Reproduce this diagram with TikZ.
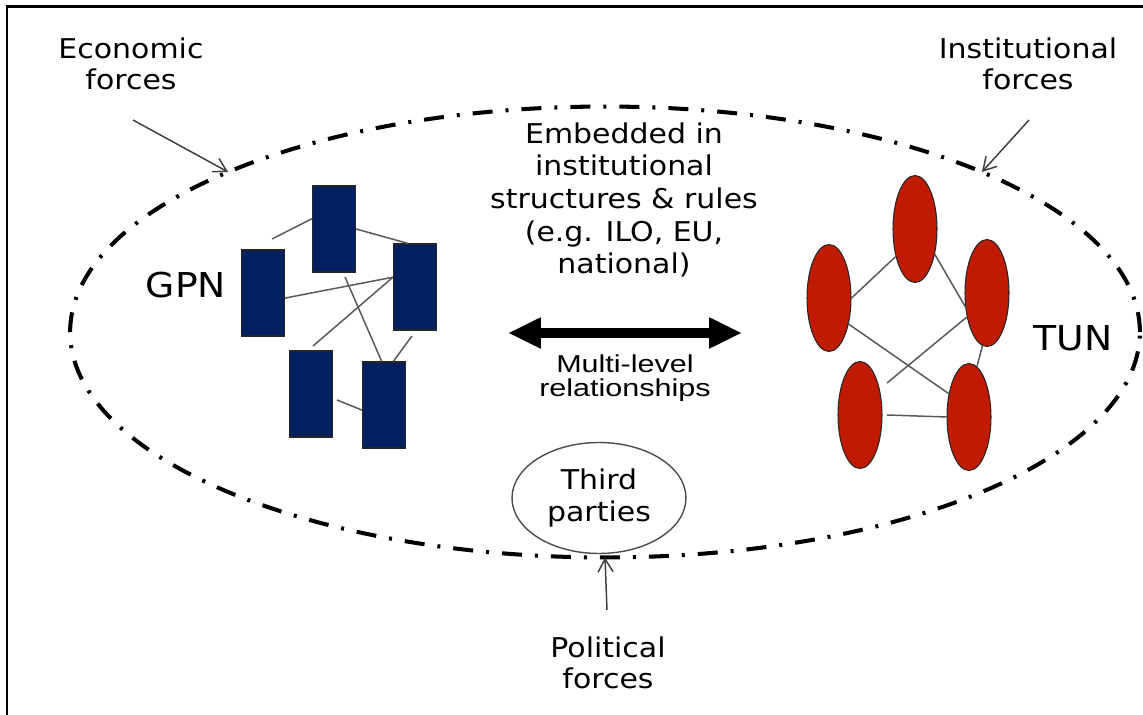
\documentclass[tikz,border=0pt]{standalone}
\usepackage{fontspec}
\setmainfont{DejaVu Sans}[FakeStretch=1.1]
\newfontfamily\relfont{Liberation Sans}[FakeStretch=1.25]
\usepackage{tikz}
\usetikzlibrary{shapes.geometric,arrows.meta}
\definecolor{gpnblue}{RGB}{0,32,96}
\definecolor{tunred}{RGB}{192,26,0}

\begin{document}
\begin{tikzpicture}[x=0.02cm,y=-0.02cm,
  txt/.style={align=center,inner sep=0pt,font=\fontsize{15.5}{17.8}\selectfont},
  netname/.style={inner sep=0pt,font=\fontsize{19.5}{22}\selectfont},
  gpnbox/.style={rectangle,draw=black!85,fill=gpnblue,line width=0.6pt,minimum width=0.86cm,minimum height=1.72cm,inner sep=0pt},
  tunell/.style={ellipse,draw=black!85,fill=tunred,line width=0.6pt,minimum width=0.88cm,minimum height=2.14cm,inner sep=0pt},
  netline/.style={draw=black!65,line width=0.85pt},
  forcearrow/.style={draw=black!75,line width=0.85pt,-{Straight Barb[length=0.26cm,width=0.3cm]}},
  embedring/.style={ellipse,draw,line width=2.3pt,dash pattern=on 0.4cm off 0.26cm on 0.06cm off 0.26cm,minimum width=21.4cm,minimum height=9.02cm,inner sep=0pt,outer sep=0pt}]
\useasboundingbox (0,0) rectangle (1143,715);
\draw[line width=1.7pt] (7,715) -- (7,7) -- (1143,7);
\node[embedring] (ring) at (605,332) {};
\node[txt] (eco) at (131,64) {Economic\\forces};
\node[txt] (inst) at (1028,64) {Institutional\\forces};
\node[txt] (pol) at (608,663) {Political\\forces};
\node[txt,font=\fontsize{15.5}{18.6}\selectfont] (emb) at (624,200) {Embedded in\\institutional\\structures \& rules\\(e.g. ILO, EU,\\national)};
\node[txt,ellipse,draw=black!70,line width=0.8pt,minimum width=3.48cm,minimum height=2.22cm] (third) at (599,498) {Third\\parties};
\node[align=center,inner sep=0pt,font=\relfont\fontsize{13.9}{13.8}\selectfont] (rel) at (625,378) {Multi-level\\relationships};
\node[netname] (gpn) at (186,285) {GPN};
\node[netname] (tun) at (1073,338) {TUN};
\node[gpnbox] (g1) at (334,229) {};
\node[gpnbox] (g2) at (263,293) {};
\node[gpnbox] (g3) at (415,287) {};
\node[gpnbox] (g4) at (311,394) {};
\node[gpnbox] (g5) at (384,405) {};
\coordinate (a1) at (272,239);
\coordinate (a2) at (313,346);
\coordinate (a3) at (345,277);
\coordinate (a4) at (412,336);
\coordinate (a5) at (337,400);
\draw[netline] (a1) -- (g1.155);
\draw[netline] (g1.east) -- (g3.99);
\draw[netline] (g2.-13) -- (g3.156);
\draw[netline] (a2) -- (g3.156);
\draw[netline] (a3) -- (g5.93);
\draw[netline] (a4) -- (g5.78);
\draw[netline] (a5) -- (g5.193);
\node[tunell] (t1) at (915,229) {};
\node[tunell] (t2) at (829,298) {};
\node[tunell] (t3) at (987,293) {};
\node[tunell] (t4) at (860,415) {};
\node[tunell] (t5) at (969,417) {};
\coordinate (b1) at (887,383);
\coordinate (b2) at (887,415);
\draw[netline] (t2.east) -- (t1.235);
\draw[netline] (t1.-52) -- (t3.212);
\draw[netline] (t2.-53) -- (t5.131);
\draw[netline] (b1) -- (t3.230);
\draw[netline] (t3.265) -- (t5.81);
\draw[netline] (b2) -- (t5.west);
\coordinate (ecotail) at (133,120);
\coordinate (insttail) at (1029,120);
\coordinate (poltail) at (607,610);
\draw[forcearrow] (ecotail) -- (ring.157);
\draw[forcearrow] (insttail) -- (ring.23);
\draw[forcearrow] (poltail) -- (ring.south);
\coordinate (mlL) at (508,333);
\coordinate (mlR) at (742,333);
\draw[line width=0.2cm,{Triangle[length=0.66cm,width=0.58cm]}-{Triangle[length=0.66cm,width=0.58cm]}] (mlL) -- (mlR);
\end{tikzpicture}
\end{document}
